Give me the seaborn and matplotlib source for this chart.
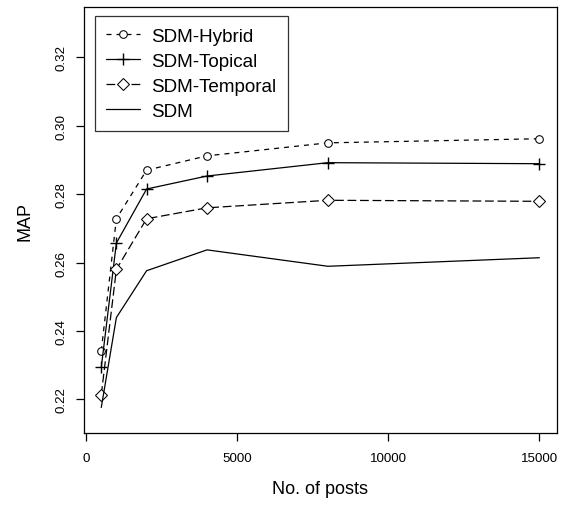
import numpy as np
import pandas as pd
import matplotlib
matplotlib.use('Agg')
import matplotlib.pyplot as plt
import seaborn as sns

# Data
posts = [500, 1000, 2000, 4000, 8000, 15000]
sdm_hybrid = [0.2341, 0.2728, 0.2870, 0.2912, 0.2950, 0.2962]
sdm_topical = [0.2293, 0.2657, 0.2815, 0.2853, 0.2892, 0.2889]
sdm_temporal = [0.2213, 0.2580, 0.2728, 0.2760, 0.2782, 0.2779]
sdm_plain = [0.2176, 0.2439, 0.2576, 0.2637, 0.2589, 0.2614]
series_names = ['SDM-Hybrid', 'SDM-Topical', 'SDM-Temporal', 'SDM']
x_ticks = [0, 5000, 10000, 15000]
y_ticks = [0.22, 0.24, 0.26, 0.28, 0.30, 0.32]

sns.set_style('white')
plt.rcParams['font.family'] = ['Liberation Sans', 'DejaVu Sans']
plt.rcParams['text.color'] = 'black'
plt.rcParams['axes.labelcolor'] = 'black'
plt.rcParams['xtick.color'] = 'black'
plt.rcParams['ytick.color'] = 'black'

fig = plt.figure(figsize=(5.62, 5.06), dpi=100)
ax = fig.add_axes([0.149, 0.142, 0.842, 0.842])

styles = {
    'SDM-Hybrid': dict(linestyle=(0, (4, 4)), marker='o', markersize=5.5,
                       markerfacecolor='white'),
    'SDM-Topical': dict(linestyle='-', marker='+', markersize=8,
                        markeredgewidth=1),
    'SDM-Temporal': dict(linestyle=(0, (7, 3)), marker='D', markersize=6,
                         markerfacecolor='white'),
    'SDM': dict(linestyle='-', marker=None),
}

values = [sdm_hybrid, sdm_topical, sdm_temporal, sdm_plain]
for name, vals in zip(series_names, values):
    df = pd.DataFrame({'posts': posts, 'map': vals})
    sns.lineplot(data=df, x='posts', y='map', ax=ax, color='black',
                 linewidth=0.9, markeredgecolor='black', label=name,
                 **styles[name])

ax.set_xlim(-80, 15580)
ax.set_ylim(0.2101, 0.3347)
ax.set_xticks(x_ticks)
ax.set_xticklabels([str(t) for t in x_ticks])
ax.set_yticks(y_ticks)
ax.set_yticklabels([f'{t:.2f}' for t in y_ticks], rotation=90, va='center')
ax.tick_params(axis='both', direction='out', length=5.8, width=0.9,
               labelsize=9.6, colors='black', bottom=True, left=True)
ax.tick_params(axis='x', pad=8)
ax.tick_params(axis='y', pad=6)

ax.set_xlabel('No. of posts', fontsize=13, labelpad=11)
ax.set_ylabel('MAP', fontsize=13, labelpad=16)

for sp in ax.spines.values():
    sp.set_color('black')
    sp.set_linewidth(0.9)
    sp.set_visible(True)

leg = ax.legend(loc='upper left', bbox_to_anchor=(0.023, 0.979),
                fontsize=13.6, frameon=True, fancybox=False,
                edgecolor='black', handlelength=1.8, handletextpad=0.6,
                borderpad=0.6, labelspacing=0.42, borderaxespad=0)
leg.get_frame().set_linewidth(0.9)

fig.savefig('out.png', dpi=100)
